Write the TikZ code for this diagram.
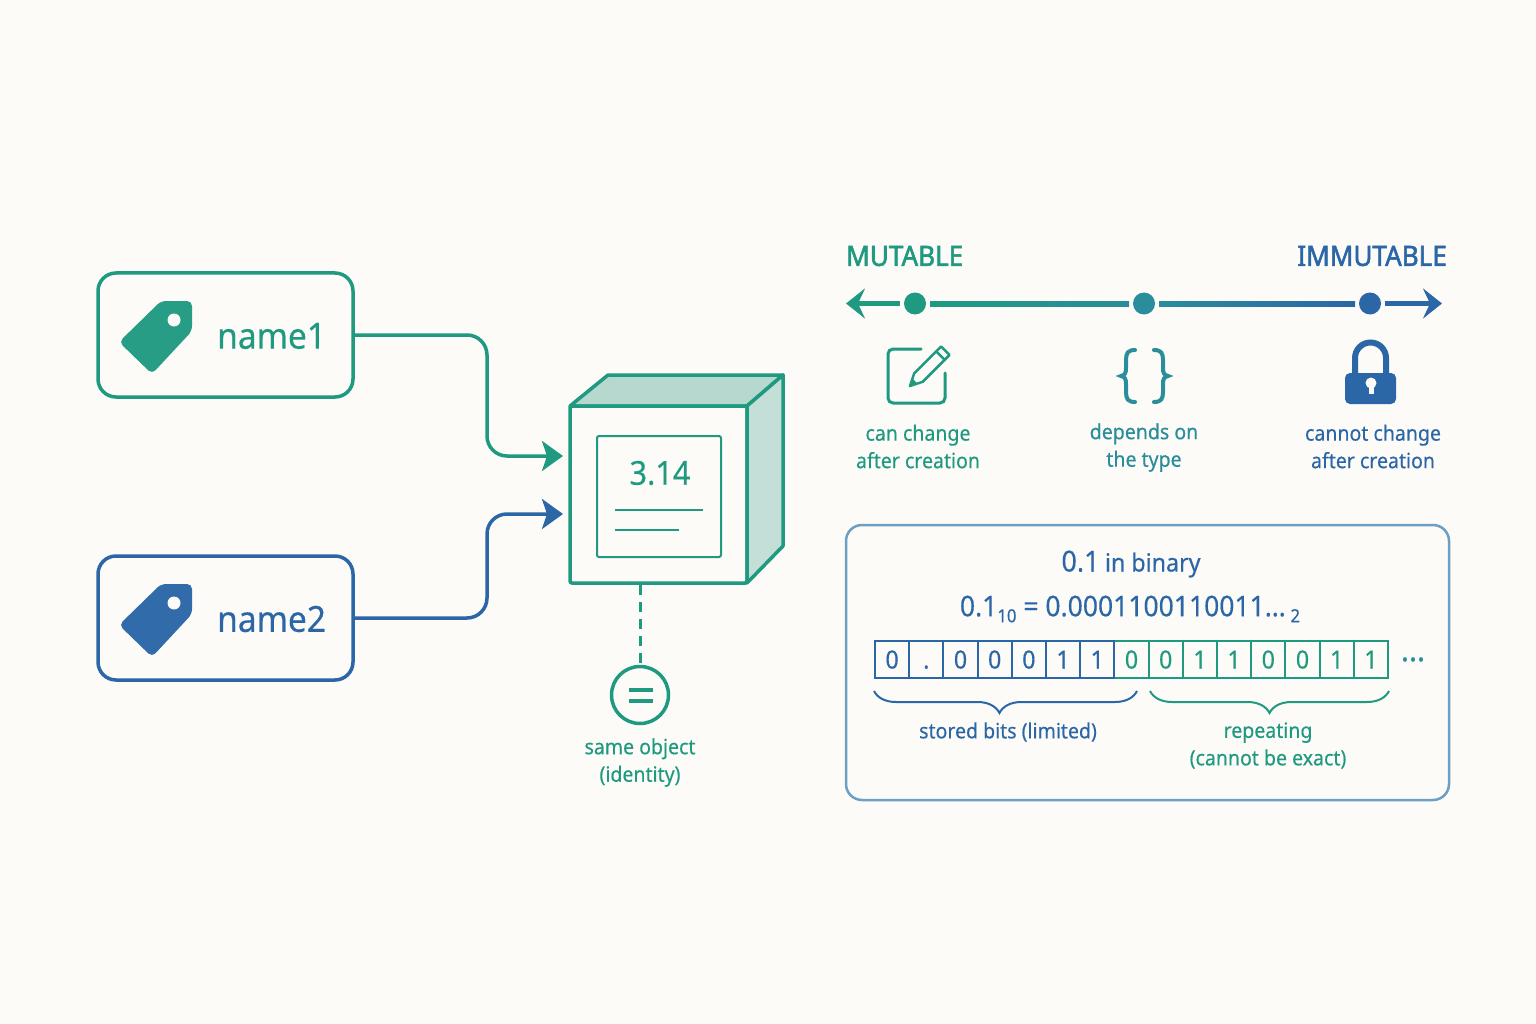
\documentclass[tikz,border=0pt]{standalone}
\usepackage{fontspec}
\setmainfont[FakeStretch=.93,FakeBold=.35]{Noto Sans}
\usetikzlibrary{arrows.meta,calc,decorations.pathreplacing}
\definecolor{bgc}{HTML}{FDFBF8}
\definecolor{grn}{HTML}{1F9A80}
\definecolor{blu}{HTML}{2B66A6}
\definecolor{tea}{HTML}{2A8D9C}
\definecolor{midc}{HTML}{25818F}
\definecolor{topc}{HTML}{B6D8CE}
\definecolor{sidec}{HTML}{C4DFD7}
\definecolor{framec}{HTML}{6B9FC6}
\newcommand{\fsz}[1]{\fontsize{#1}{#1}\selectfont}
\newcommand{\subnum}[1]{\raisebox{-6pt}{\fsz{18}#1}}
\begin{document}
\begin{tikzpicture}[
    x=1pt, y=-1pt,
    namebox/.style={draw, rounded corners=18pt, line width=3.5pt, minimum width=255pt,
                    minimum height=124pt, inner sep=0pt},
    nametxt/.style={font=\fsz{36}, anchor=west, inner sep=0pt},
    lab/.style={font=\fontsize{21}{27.5}\selectfont, align=center, inner sep=0pt},
    head/.style={font=\fsz{28}\addfontfeature{FakeBold=2}, inner sep=0pt},
    arr/.style={line width=3.5pt, rounded corners=20pt, -{Stealth[length=21pt,width=30pt,inset=5pt]}},
    dot/.style={circle, inner sep=0pt, minimum size=22pt, outer sep=4pt},
    tip/.style={line width=5pt, -{Stealth[length=19pt,width=30pt,inset=7pt]}},
    bit/.style={draw, line width=2pt, minimum width=34.2pt, minimum height=37pt, inner sep=0pt,
                font=\fsz{25}, text height=18pt, text depth=0pt},
    bar/.style={line width=2pt, decorate}
]
\fill[bgc] (0,0) rectangle (1536,1024);
\useasboundingbox (0,0) rectangle (1536,1024);

% names
\node[namebox, draw=grn] (name1) at (225.5,335) {};
\node[namebox, draw=blu] (name2) at (225.5,618) {};
\node[nametxt, grn] (txt1) at (217,336) {name1};
\node[nametxt, blu] (txt2) at (217,619) {name2};
\foreach \c/\y in {grn/0, blu/283} {
  \fill[\c!97!white, rounded corners=5pt] (161,301+\y) -- (192,301+\y) -- (192,331+\y)
      -- (152,374+\y) -- (119,342+\y) -- cycle;
  \fill[bgc] (174,320+\y) circle (6.5);
}

% object
\draw[grn, fill=topc, line width=3.5pt, line join=round] (570,406) -- (608,375) -- (783,375) -- (747,406) -- cycle;
\draw[grn, fill=sidec, line width=3.5pt, line join=round] (747,406) -- (783,375) -- (783,546) -- (747,583) -- cycle;
\node[draw=grn, line width=3.5pt, rounded corners=2pt, minimum width=177pt, minimum height=177pt,
      inner sep=0pt] (obj) at (658.5,494.5) {};
\node[draw=grn, line width=2pt, rounded corners=2pt, minimum width=124pt, minimum height=121pt,
      inner sep=0pt] (panel) at (659,496.5) {};
\node[grn, font=\fsz{33}, inner sep=0pt] (val) at (660,473) {3.14};
\draw[grn, line width=2pt] (615,510) -- (703,510);
\draw[grn, line width=2pt] (615,530) -- (679,530);

\coordinate (in1) at (563,456);
\coordinate (in2) at (563,514);
\coordinate (mid) at (487,0);
\draw[arr, grn] (name1.east) -| (mid |- in1) -- (in1);
\draw[arr, blu] (name2.east) -| (mid |- in2) -- (in2);

\node[circle, draw=grn, line width=3.5pt, minimum size=57pt, inner sep=0pt] (same) at (640,695) {};
\draw[grn, line width=4pt] (629,690) -- (653,690);
\draw[grn, line width=4pt] (629,701) -- (653,701);
\draw[grn, line width=3pt, dash pattern=on 10pt off 7pt] (obj.south -| same) -- (same);
\node[lab, grn] (samelab) at (640,762.5) {same object\\(identity)};

% scale
\node[head, grn, anchor=west] (mut) at (846,256) {MUTABLE};
\node[head, blu, anchor=east] (imm) at (1447,256) {IMMUTABLE};
\node[dot, fill=grn] (d1) at (915,303.5) {};
\node[dot, fill=tea] (d2) at (1144,303.5) {};
\node[dot, fill=blu] (d3) at (1370,303.5) {};
\coordinate (left) at (846,303.5);
\coordinate (right) at (1442,303.5);
\draw[tip, grn] (d1) -- (left);
\draw[tip, blu] (d3) -- (right);
\draw[line width=5pt, midc!50!grn] (d1) -- (d2);
\draw[line width=5pt, midc!50!blu] (d2) -- (d3);
\path[left color=grn, right color=tea] ($(d1.east)+(0,-2.5)$) rectangle ($(d2.west)+(0,2.5)$);
\path[left color=tea, right color=blu] ($(d2.east)+(0,-2.5)$) rectangle ($(d3.west)+(0,2.5)$);

% pencil icon
\draw[grn, line width=3pt, line cap=round, rounded corners=5pt]
    (921,349) -- (888,349) -- (888,403) -- (945,403) -- (945,373);
\begin{scope}[shift={(910,386)}, rotate=45]
  \draw[grn, line width=2.5pt, line join=round, fill=bgc]
      (0,0) -- (12,-6) -- (50,-6) -- (50,6) -- (12,6) -- cycle;
  \draw[grn, line width=2.5pt] (43,-6) -- (43,6);
  \fill[grn] (0,0) -- (7,-3.5) -- (7,3.5) -- cycle;
\end{scope}

% braces icon
\draw[tea, line width=4pt, line cap=round]
    (1135,350) .. controls (1128,350) and (1126,353) .. (1126,360) -- (1126,368)
    .. controls (1126,373) and (1125,375) .. (1121,376)
    .. controls (1125,377) and (1126,379) .. (1126,384) -- (1126,392)
    .. controls (1126,399) and (1128,402) .. (1135,402);
\draw[tea, line width=4pt, line cap=round]
    (1154,350) .. controls (1161,350) and (1163,353) .. (1163,360) -- (1163,368)
    .. controls (1163,373) and (1164,375) .. (1168,376)
    .. controls (1164,377) and (1163,379) .. (1163,384) -- (1163,392)
    .. controls (1163,399) and (1161,402) .. (1154,402);

% lock icon
\draw[blu, line width=6pt] (1355,376) -- (1355,358) arc[start angle=180, end angle=360, radius=15.5] -- (1386,376);
\fill[blu, rounded corners=5pt] (1345,373) rectangle (1396,404);
\fill[bgc] (1371,383) circle (5.5);
\fill[bgc] (1368.5,384) rectangle (1373.5,394);

\node[lab, grn] (l1) at (918,446.5) {can change\\after creation};
\node[lab, tea] (l2) at (1144,447.5) {depends on\\the type};
\node[lab, blu] (l3) at (1373,446.5) {cannot change\\after creation};

% binary panel
\node[draw=framec, line width=2.5pt, rounded corners=16pt, minimum width=603pt, minimum height=275pt,
      inner sep=0pt] (frame) at (1147.5,662.5) {};
\node[blu, inner sep=0pt] (title) at (1131,564) {{\fsz{29}0.1}\hspace{3pt} {\fsz{25}in binary}};
\node[blu, font=\fsz{28.5}, inner sep=0pt] (formula) at (1130,609) {0.1\subnum{10} = 0.0001100110011\ldots\,\subnum{2}};

\foreach \b [count=\i from 8] in {0,0,1,1,0,0,1,1} {
  \node[bit, draw=grn, text=grn] (c\i) at (875+34.2*\i-17.1,659.5) {\b};
}
\foreach \b [count=\i from 1] in {0,.,0,0,0,1,1} {
  \node[bit, draw=blu, text=blu] (c\i) at (875+34.2*\i-17.1,659.5) {\b};
}
\node[tea, font=\fsz{33}, inner sep=0pt] (more) at (1413,659.5) {\ldots};

\coordinate (b1) at (c1.south west |- 0,691);
\coordinate (b2) at (1137,691);
\coordinate (b3) at (1150,691);
\coordinate (b4) at (c15.south east |- 0,691);
\draw[bar, blu, decoration={brace, mirror, amplitude=22pt, aspect=.477}] (b1) -- (b2);
\draw[bar, grn, decoration={brace, mirror, amplitude=22pt}] (b3) -- (b4);
\node[lab, blu] (stored) at (1008,732) {stored bits (limited)};
\node[lab, grn] (rep) at (1268,745.5) {repeating\\(cannot be exact)};
\end{tikzpicture}
\end{document}
